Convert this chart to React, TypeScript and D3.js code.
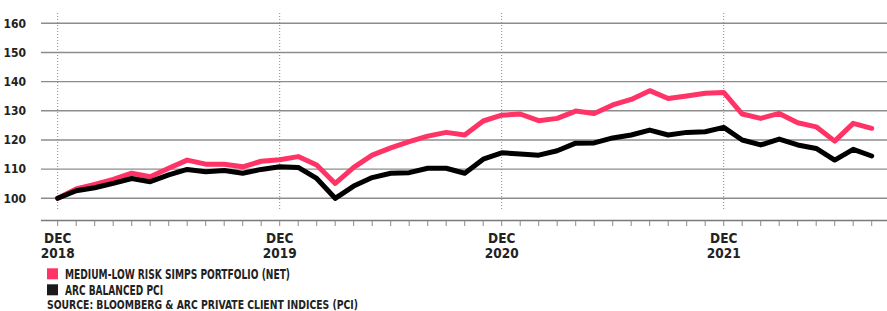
import * as d3 from "d3";

// monthly index values, Dec 2018 -> Aug 2022
const simps = [
  100, 103.2, 104.8, 106.5, 108.6, 107.4, 110.3, 113.1, 111.7, 111.7, 110.8, 112.7,
  113.2, 114.3, 111.4, 105.1, 110.6, 114.8, 117.3, 119.4, 121.3, 122.6, 121.7, 126.5,
  128.5, 128.9, 126.6, 127.4, 129.9, 129.1, 132.0, 133.9, 136.9, 134.2, 135.1, 136.0,
  136.3, 128.9, 127.4, 129.1, 125.9, 124.5, 119.6, 125.7, 124.0,
];
const arc = [
  100, 102.6, 103.6, 105.1, 106.8, 105.7, 108.0, 109.9, 109.1, 109.5, 108.6, 109.9,
  110.8, 110.6, 106.8, 100.0, 104.2, 107.1, 108.6, 108.8, 110.3, 110.3, 108.6, 113.4,
  115.6, 115.2, 114.8, 116.3, 118.9, 119.0, 120.7, 121.7, 123.4, 121.7, 122.6, 122.8,
  124.3, 120.0, 118.3, 120.3, 118.3, 117.1, 113.1, 116.8, 114.5,
];
const months = d3.utcMonths(new Date(Date.UTC(2018, 11, 1)), new Date(Date.UTC(2022, 8, 1)));
const yTicks = [100, 110, 120, 130, 140, 150, 160];
const legend = [
  { label: "MEDIUM-LOW RISK SIMPS PORTFOLIO (NET)", color: "#ff3366", len: 225 },
  { label: "ARC BALANCED PCI", color: "#1a1a1a", len: 98 },
];
const source = "SOURCE: BLOOMBERG & ARC PRIVATE CLIENT INDICES (PCI)";

const W = 887;
const H = 311;
const font = "'Liberation Sans Narrow', 'DejaVu Sans Condensed', sans-serif";

export default function App() {
  const x = d3
    .scalePoint<number>()
    .domain(months.map((_, i) => i))
    .range([57.7, 871.7]);
  const y = d3.scaleLinear().domain([100, 160]).range([198.3, 23.3]);
  const axisY = 220.5;

  const line = d3
    .line<number>()
    .x((_, i) => x(i)!)
    .y((d) => y(d));

  const decs = months.map((m, i) => ({ m, i })).filter((d) => d.m.getUTCMonth() === 11);

  return (
    <svg
      width={W}
      height={H}
      style={{ position: "absolute", left: 0, top: 0, background: "#fff" }}
      fontFamily={font}
      fontWeight="bold"
    >
      {/* horizontal grid */}
      {yTicks.map((t) => (
        <g key={t}>
          <line x1={41} x2={W} y1={y(t)} y2={y(t)} stroke="#8c8c8c" strokeWidth={1.4} />
          <text x={26} y={y(t) + 4.3} textAnchor="end" fontSize={12} fill="#222">
            {t}
          </text>
        </g>
      ))}

      {/* dotted year markers */}
      {decs.map((d) => (
        <line
          key={d.i}
          x1={x(d.i)}
          x2={x(d.i)}
          y1={13}
          y2={211}
          stroke="#888"
          strokeWidth={1}
          strokeDasharray="1,2"
        />
      ))}

      {/* x axis */}
      <line x1={41} x2={W} y1={axisY} y2={axisY} stroke="#7a7a7a" strokeWidth={1.4} />
      {months.map((_, i) => (
        <line key={i} x1={x(i)} x2={x(i)} y1={axisY} y2={226} stroke="#8a8a8a" strokeWidth={1} />
      ))}
      {decs.map((d) => (
        <g key={d.i} fontSize={13.5} fill="#222" textAnchor="middle">
          <text x={x(d.i)} y={242.7}>DEC</text>
          <text x={x(d.i)} y={258.3}>{d.m.getUTCFullYear()}</text>
        </g>
      ))}

      {/* series */}
      <path d={line(simps)!} fill="none" stroke="#ff3366" strokeWidth={5} strokeLinejoin="round" strokeLinecap="round" />
      <path d={line(arc)!} fill="none" stroke="#000" strokeWidth={5} strokeLinejoin="round" strokeLinecap="round" />

      {/* legend */}
      {legend.map((l, i) => (
        <g key={l.label}>
          <rect x={47} y={268.3 + i * 16} width={11} height={11} fill={l.color} />
          <text
            x={65}
            y={279.3 + i * 15.8}
            fontSize={13.5}
            fill="#222"
            textLength={l.len}
            lengthAdjust="spacingAndGlyphs"
          >
            {l.label}
          </text>
        </g>
      ))}
      <text x={47} y={308.5} fontSize={13} fill="#222" textLength={311} lengthAdjust="spacingAndGlyphs">
        {source}
      </text>
    </svg>
  );
}
